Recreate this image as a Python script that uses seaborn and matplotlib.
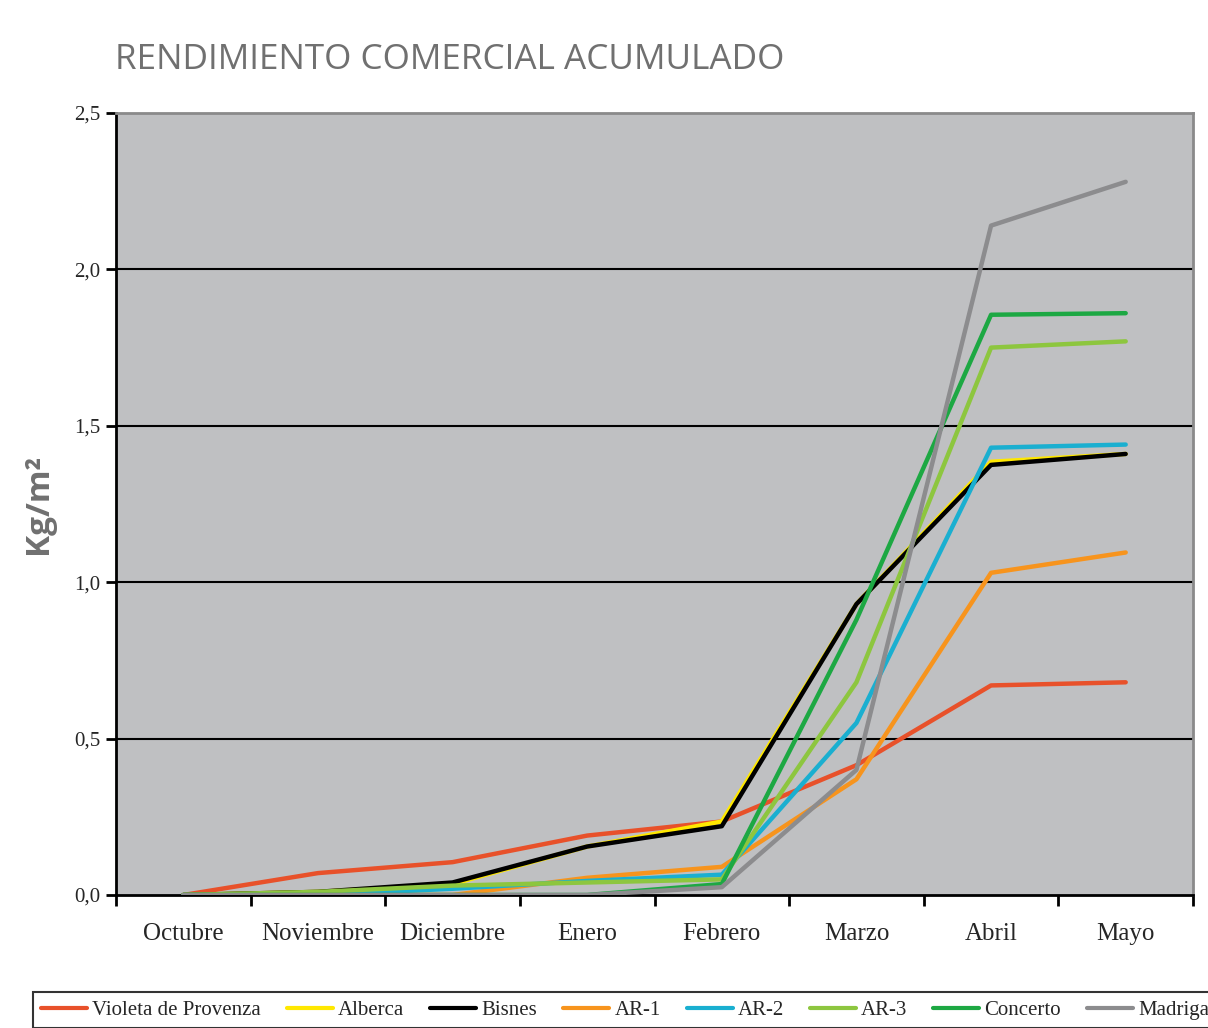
import numpy as np
import pandas as pd
import seaborn as sns
import matplotlib.pyplot as plt
from matplotlib.lines import Line2D

meses = ['Octubre', 'Noviembre', 'Diciembre', 'Enero', 'Febrero', 'Marzo', 'Abril', 'Mayo']

violeta = [0.0, 0.07, 0.105, 0.19, 0.235, 0.415, 0.67, 0.68]
alberca = [0.0, 0.01, 0.035, 0.155, 0.235, 0.93, 1.385, 1.41]
bisnes = [0.0, 0.01, 0.04, 0.155, 0.22, 0.93, 1.375, 1.41]
ar1 = [0.0, 0.0, 0.0, 0.055, 0.09, 0.37, 1.03, 1.095]
ar2 = [0.0, 0.0, 0.02, 0.045, 0.065, 0.55, 1.43, 1.44]
ar3 = [0.0, 0.01, 0.03, 0.04, 0.05, 0.68, 1.75, 1.77]
concerto = [0.0, 0.0, 0.0, 0.0, 0.035, 0.88, 1.855, 1.86]
madrigal = [0.0, 0.0, 0.0, 0.0, 0.025, 0.4, 2.14, 2.28]

series = ['Violeta de Provenza', 'Alberca', 'Bisnes', 'AR-1', 'AR-2', 'AR-3', 'Concerto', 'Madrigal']
valores = [violeta, alberca, bisnes, ar1, ar2, ar3, concerto, madrigal]
colores = ['#E8512A', '#FFE800', '#000000', '#F7941D', '#1AAFD0', '#8DC63F', '#1DA843', '#8C8C8E']

df = pd.DataFrame({
    'mes': np.tile(np.arange(len(meses)), len(series)),
    'valor': np.concatenate(valores),
    'variedad': np.repeat(series, len(meses)),
})

sns.set_style('white')
plt.rcParams['font.family'] = ['Liberation Serif', 'DejaVu Serif']

fig = plt.figure(figsize=(12.08, 10.28), dpi=100)
ax = fig.add_axes([116 / 1208, 1 - 895 / 1028, (1193 - 116) / 1208, (895 - 113) / 1028])
ax.set_facecolor('#BFC0C2')

# horizontal grid every 0,5
for y in [0.5, 1.0, 1.5, 2.0]:
    ax.axhline(y, color='black', lw=1.5, zorder=1)

sns.lineplot(data=df, x='mes', y='valor', hue='variedad', hue_order=series,
             palette=dict(zip(series, colores)), sort=False, lw=3.2,
             legend=False, ax=ax, zorder=3)

ax.set_xlim(-0.5, len(meses) - 0.5)
ax.set_ylim(0, 2.5)
ax.set_xticks(np.arange(len(meses)))
ax.set_xticklabels(meses, fontsize=18)
ax.set_xticks(np.arange(-0.5, len(meses)), minor=True)
ax.tick_params(axis='x', which='major', length=0, pad=20)
ax.tick_params(axis='x', which='minor', bottom=True, length=8, width=2,
               color='black', direction='out')
ax.set_yticks([0, 0.5, 1.0, 1.5, 2.0, 2.5])
ax.set_yticklabels(['0,0', '0,5', '1,0', '1,5', '2,0', '2,5'], fontsize=15)
ax.tick_params(axis='y', length=7, width=2, color='black', direction='out', pad=4, left=True)
ax.set_xlabel('')
ax.set_ylabel('Kg/m\u00b2', fontsize=24, fontweight='bold', color='#707070',
              family=['Open Sans', 'DejaVu Sans'], labelpad=14)

for s in ['left', 'bottom']:
    ax.spines[s].set_color('black')
    ax.spines[s].set_linewidth(2)
for s in ['top', 'right']:
    ax.spines[s].set_color('#8A8A8A')
    ax.spines[s].set_linewidth(2)

fig.text(115 / 1208, 1 - 69 / 1028, 'RENDIMIENTO COMERCIAL ACUMULADO', fontsize=25.3,
         color='#707070', family=['Open Sans', 'DejaVu Sans'], ha='left', va='baseline')

handles = [Line2D([0], [0], color=c, lw=3) for c in colores]
leg = fig.legend(handles, series, loc='upper left', bbox_to_anchor=(33 / 1208, 1 - 992 / 1028),
                 ncol=8, fontsize=15, frameon=True, fancybox=False, handlelength=2.2,
                 handletextpad=0.25, columnspacing=1.25, borderpad=0.4, borderaxespad=0.0)
leg.get_frame().set_edgecolor('black')
leg.get_frame().set_linewidth(1.5)

fig.savefig('out.png', dpi=100)
